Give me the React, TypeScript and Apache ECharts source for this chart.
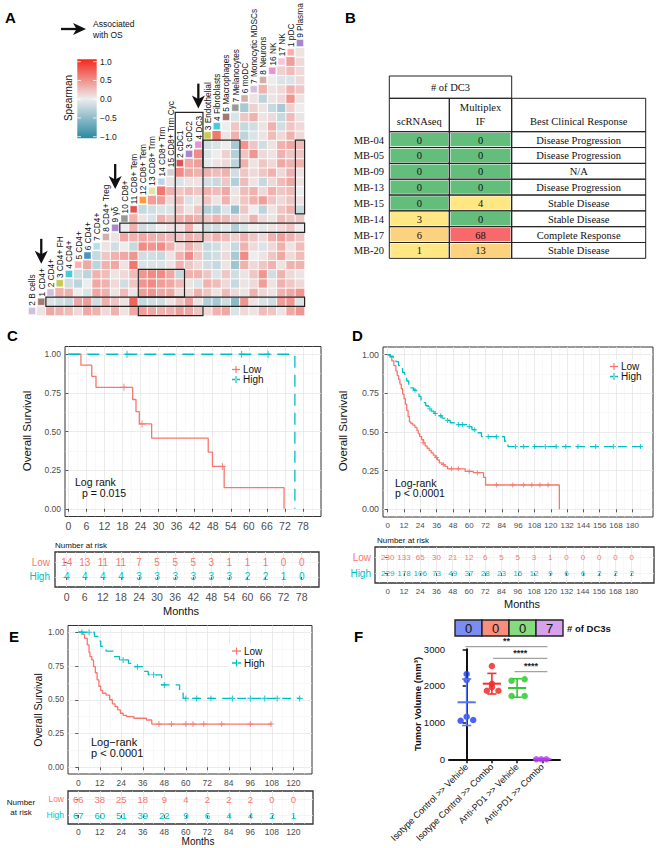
import React, { useEffect, useRef } from 'react';
import * as echarts from 'echarts';

const FONT = '"Liberation Sans", Arial, Helvetica, sans-serif';
const SERIF = '"Liberation Serif", "Times New Roman", Times, serif';
const RED = '#F8766D';
const TEAL = '#00BFC4';

/* ---------------- Panel A : correlation triangle ---------------- */
const cellTypes = [
  '2 B cells', '1 CD4+', '2 CD4+', '3 CD4+ FH', '4 CD4+', '5 CD4+', '6 CD4+', '7 CD4+',
  '8 CD4+ Treg', '9 γδ', '10 CD8+', '11 CD8+ Tem', '12 CD8+ Tem', '13 CD8+ Trm',
  '14 CD8+ Trm', '15 CD8+ Trm Cyc', '2 cDC1', '3 cDC2', '4 DC3', '3 Endothelial',
  '4 Fibroblasts', '5 Macrophages', '7 Melanocytes', '6 moDC', '7 Monocytic MDSCs',
  '8 Neurons', '16 NK', '17 NK', '1 pDC', '9 Plasma',
];
// row r holds Spearman values for columns r+1 .. 29
const corrRows = [
  [0.05, 0.35, 0.3, 0.25, 0.1, 0.35, 0.3, 0.1, 0.3, 0.05, 0.35, 0.4, 0.35, 0.3, 0.3, 0.4, 0.35, 0.2, 0.1, 0.3, 0.35, -0.1, 0.1, 0.05, 0.25, 0.2, 0.05, 0.35, 0.45],
  [-0.1, -0.15, -0.2, 0.35, 0.4, -0.15, 0.3, 0.2, 0.05, 0.7, -0.2, -0.15, -0.15, 0.05, 0.2, 0.4, 0.05, -0.3, -0.35, -0.15, -0.5, 0.45, 0.05, -0.1, -0.15, 0.4, 0.45, -0.1],
  [0.3, 0.3, 0, -0.1, 0.35, 0.3, 0.05, 0.25, 0.05, 0.4, 0.45, 0.35, 0.35, 0.1, 0.1, 0.3, 0.2, 0.05, 0.25, 0.1, 0.05, 0.3, 0.1, 0.05, 0.3, 0.35, 0.45],
  [-0.15, -0.25, 0, 0.35, 0.3, 0.1, -0.15, 0.2, 0.45, 0.5, 0.4, 0.35, 0.25, 0.05, -0.1, 0.3, 0.25, 0.1, -0.2, 0.05, 0.1, 0.4, 0.05, 0.3, 0.2, 0.1],
  [-0.15, -0.25, 0.3, 0.25, 0.05, 0.1, 0.25, 0.45, 0.5, 0.5, 0.35, -0.2, 0.3, 0.3, 0.2, -0.1, 0.2, -0.15, 0.05, 0.2, 0.45, -0.15, 0.3, 0.1, 0.05],
  [0.35, -0.25, 0.3, 0.35, 0.05, 0.6, -0.1, -0.1, -0.1, 0.05, 0.3, 0.2, 0.1, -0.15, -0.2, 0.05, -0.4, 0.3, 0.1, 0.2, 0.3, 0.05, 0.3, 0.3],
  [-0.2, 0.2, 0.3, 0.35, 0.45, -0.15, -0.15, -0.2, 0.05, 0.3, 0.5, 0.2, -0.2, -0.15, 0.1, -0.35, 0.5, 0, 0.05, 0.2, 0.35, 0.1, 0.25],
  [0.05, -0.15, 0, -0.2, 0.5, 0.45, 0.5, 0.3, 0.1, 0.3, 0.15, -0.2, -0.15, 0.05, -0.2, 0.3, 0.1, -0.1, 0.1, 0.3, 0.05, 0.25],
  [0.05, 0.35, 0.3, 0.35, 0.3, 0.3, 0.25, 0.2, 0.3, 0.25, 0.2, 0.3, 0.25, 0.15, 0.3, 0.2, 0.1, 0.3, 0.4, 0.3, 0.2],
  [0, 0.3, -0.15, -0.1, 0, 0.05, 0.05, 0.3, 0, -0.15, -0.15, -0.05, -0.3, -0.1, 0, -0.05, 0.05, 0.1, 0.2, 0],
  [0.3, 0.05, -0.1, 0.3, 0.2, 0.3, 0.35, 0.3, 0.2, 0.3, 0.25, 0.15, 0.1, 0.3, 0.1, 0.05, 0.25, 0.2, 0.2],
  [-0.2, -0.15, -0.1, -0.1, 0.2, 0.05, 0.2, -0.3, -0.3, -0.1, -0.45, 0.2, 0, -0.25, 0.05, 0.2, 0.3, -0.2],
  [0.4, 0.4, 0.1, 0.25, -0.1, 0.05, 0.2, 0.05, 0.3, 0.05, 0.2, 0.3, 0.4, 0.2, 0.1, 0.2, 0.05],
  [0.6, 0.3, 0.2, 0.25, 0.2, 0.3, 0.25, 0.35, 0.05, 0.25, 0.3, 0.1, 0.3, 0.2, 0.25, 0],
  [0.05, -0.1, 0.05, 0.05, -0.15, -0.2, 0.2, -0.3, 0.25, 0.05, -0.2, 0.1, 0.25, 0.35, 0.05],
  [0.5, 0.35, 0.3, 0.3, 0.25, 0.3, -0.15, 0.2, 0.1, 0.2, 0.3, 0.1, 0.3, 0.05],
  [0.35, 0.4, -0.05, 0.05, 0.1, -0.25, 0.3, 0.05, 0.2, 0.1, 0.35, 0.3, 0.3],
  [0.5, -0.1, 0, 0.15, -0.3, 0.2, 0.45, 0.1, 0.05, 0.3, 0.2, 0.2],
  [-0.15, -0.1, 0, -0.35, 0.45, 0.2, -0.15, 0.05, 0.3, 0.35, 0.25],
  [0.6, 0.05, 0.3, -0.25, -0.1, 0.05, 0.25, 0.1, 0.3, 0.1],
  [0, 0.2, -0.2, -0.15, 0.05, 0.3, -0.15, 0.2, 0.1],
  [-0.1, 0.2, 0.3, 0.05, 0.1, -0.2, 0.25, 0.05],
  [-0.35, 0.15, 0.05, -0.2, -0.35, 0.15, 0],
  [0.05, -0.25, 0.05, 0.1, 0.45, 0.05],
  [0.3, 0.05, 0.1, 0.3, 0.2],
  [0, -0.1, -0.1, 0.1],
  [0.15, 0.25, 0.1],
  [0.4, 0.1],
  [0.05],
];
// [firstCol, firstRow, lastCol, lastRow]
const highlightBoxes = [
  [12, 2, 16, 4], [2, 1, 29, 1], [12, 0, 18, 0], [10, 9, 29, 9],
  [16, 8, 18, 21], [19, 16, 22, 18], [29, 11, 29, 18],
];
// [column, row position of arrow tip]
const arrowMarks = [[1, 5.1], [9, 13.2], [18, 21.9]];
const colorbarValues = [1, 0.5, 0, -0.5, -1];
const colorbarLabels = ['1.0', '0.5', '0.0', '−0.5', '−1.0'];

// style palette for the cell-type chips
const chipColors = [
  '#c5b0d5', '#8c564b', '#c5b0d5', '#bcbd22', '#17becf', '#ff9896', '#1f77b4', '#9edae5',
  '#c49c94', '#9467bd', '#7f7f7f', '#d62728', '#ff7f0e', '#dbdb8d', '#aec7e8', '#c7c7c7',
  '#d62728', '#9467bd', '#e377c2', '#bcbd22', '#17becf', '#8c564b', '#7f7f7f', '#c49c94',
  '#c5b0d5', '#c49c94', '#e377c2', '#f7b6d2', '#ff9896', '#9467bd',
];
const heatColors = ['#2A88A3', '#EDEDED', '#F3291C'];

/* ---------------- Panel B : table ---------------- */
const tblPatients = ['MB-04', 'MB-05', 'MB-09', 'MB-13', 'MB-15', 'MB-14', 'MB-17', 'MB-20'];
const tblScRNA = [0, 0, 0, 0, 0, 3, 6, 1];
const tblMultiIF = [0, 0, 0, 0, 4, 0, 68, 13];
const tblResponse = [
  'Disease Progression', 'Disease Progression', 'N/A', 'Disease Progression',
  'Stable Disease', 'Stable Disease', 'Complete Response', 'Stable Disease',
];

/* ---------------- Panel C ---------------- */
const cTicks = [0, 6, 12, 18, 24, 30, 36, 42, 48, 54, 60, 66, 72, 78];
const cLowSteps = [[0, 1], [4.2, 0.929], [7.8, 0.857], [9.2, 0.786], [21.4, 0.707], [22.5, 0.628], [23.6, 0.549], [27.7, 0.457], [46.5, 0.366], [47.9, 0.274], [51.8, 0.137], [71.7, 0]];
const cLowCensor = [[18.5, 0.786], [24.5, 0.549], [51.2, 0.274]];
const cHighSteps = [[0, 1], [75.3, 0]];
const cHighCensor = [[19.5, 1], [57.6, 1], [66.4, 1]];
const cRiskLow = [14, 13, 11, 11, 7, 5, 5, 5, 3, 1, 1, 1, 0, 0];
const cRiskHigh = [4, 4, 4, 4, 3, 3, 3, 3, 3, 3, 2, 2, 1, 0];

/* ---------------- Panel D ---------------- */
const dTicks = [0, 12, 24, 36, 48, 60, 72, 84, 96, 108, 120, 132, 144, 156, 168, 180];
const dLowSteps = [[0, 1], [1.5, 0.985], [3, 0.96], [4.5, 0.93], [6, 0.895], [7, 0.865], [8, 0.84], [9, 0.81], [10, 0.78], [11, 0.745], [12, 0.715], [13, 0.68], [14, 0.64], [15, 0.6], [16, 0.565], [17, 0.555], [18.5, 0.545], [20, 0.53], [21.5, 0.51], [22.5, 0.49], [23.5, 0.47], [25, 0.45], [26.5, 0.43], [27.5, 0.41], [29, 0.395], [30.5, 0.38], [32, 0.365], [33.5, 0.35], [35, 0.335], [36.5, 0.32], [38, 0.3], [40, 0.29], [42, 0.278], [44, 0.262], [57, 0.245], [63, 0.237], [70.5, 0.207], [72, 0.157], [126.3, 0]];
const dLowCensor = [[26, 0.43], [36, 0.335], [41, 0.29], [47, 0.262], [52, 0.262], [60, 0.245], [66, 0.237], [80, 0.157], [92, 0.157], [100, 0.157], [106, 0.157], [112, 0.157], [118, 0.157]];
const dHighSteps = [[0, 1], [2, 0.99], [4, 0.975], [6, 0.955], [8, 0.93], [9.5, 0.91], [11, 0.885], [12.5, 0.86], [14, 0.83], [15.5, 0.8], [17, 0.785], [19, 0.77], [21, 0.755], [23, 0.73], [24.5, 0.705], [26, 0.69], [28, 0.67], [30, 0.65], [32, 0.635], [34, 0.62], [37, 0.605], [40, 0.59], [43, 0.575], [46, 0.56], [50, 0.548], [58, 0.535], [62, 0.515], [66, 0.495], [69, 0.47], [86, 0.44], [88.5, 0.406], [187, 0.406]];
const dHighCensor = [[20, 0.77], [31, 0.65], [35, 0.62], [39, 0.605], [44, 0.575], [52, 0.548], [55, 0.548], [60, 0.535], [64, 0.515], [74, 0.47], [80, 0.47], [94, 0.406], [100, 0.406], [108, 0.406], [116, 0.406], [124, 0.406], [131, 0.406], [140, 0.406], [153, 0.406], [166, 0.406], [186, 0.406]];
const dRiskLow = [230, 133, 65, 30, 21, 12, 6, 5, 5, 3, 1, 0, 0, 0, 0, 0];
const dRiskHigh = [229, 178, 106, 73, 49, 37, 28, 23, 15, 12, 9, 6, 6, 2, 2, 2];

/* ---------------- Panel E ---------------- */
const eTicks = [0, 12, 24, 36, 48, 60, 72, 84, 96, 108, 120];
const eLowSteps = [[0, 1], [2.5, 0.985], [3.5, 0.955], [5, 0.906], [6, 0.85], [6.5, 0.82], [7.5, 0.795], [8.5, 0.745], [9.5, 0.7], [10.5, 0.647], [11.5, 0.6], [12.5, 0.57], [13.5, 0.548], [15.5, 0.535], [17.5, 0.5], [19, 0.47], [20.5, 0.45], [22, 0.425], [23.5, 0.4], [25, 0.385], [27, 0.375], [31, 0.363], [38, 0.35], [41, 0.32], [108, 0.32]];
const eLowCensor = [[45, 0.32], [52, 0.32], [60, 0.32], [64, 0.32], [70, 0.32], [80, 0.32], [96, 0.32], [107.5, 0.32]];
const eHighSteps = [[0, 1], [9, 0.97], [11, 0.935], [12.5, 0.895], [15.5, 0.86], [19.5, 0.82], [23, 0.795], [28, 0.77], [31.5, 0.745], [36, 0.71], [39, 0.685], [46.5, 0.61], [56.5, 0.55], [58.5, 0.51], [124, 0.51]];
const eHighCensor = [[2, 1], [6, 1], [25, 0.795], [33, 0.745], [42, 0.685], [48, 0.61], [60, 0.51], [66, 0.51], [74, 0.51], [86, 0.51], [96, 0.51], [104, 0.51], [111, 0.51], [123.5, 0.51]];
const eRiskLow = [66, 38, 25, 18, 9, 4, 2, 2, 2, 0, 0];
const eRiskHigh = [67, 60, 51, 39, 22, 9, 6, 4, 4, 2, 1];

/* ---------------- Panel F ---------------- */
const fGroups = ['Isotype Control >> Vehicle', 'Isotype Control >> Combo', 'Anti-PD1 >> Vehicle', 'Anti-PD1 >> Combo'];
const fVolumes = [
  [2327, 2163, 1162, 1053, 1072],
  [2545, 2060, 1964, 1871, 1871],
  [2144, 2182, 1726, 1726],
  [0, 0, 0],
];
const fJitter = [
  [0, 0, 0, -0.24, 0.26],
  [0, 0, 0, -0.2, 0.26],
  [-0.22, 0.3, -0.22, 0.3],
  [-0.24, -0.04, 0.16],
];
const fDC3 = [0, 0, 0, 7];
const fSigLines = [[-0.05, 3.2, 3071], [1.05, 3.2, 2755], [1.9, 3.2, 2389]];
const fSigLabels = ['**', '****', '****'];
const fVolTicks = [0, 1, 2, 3];

// styles for panel F
const fPointColors = ['#1E3CF0', '#F21D1D', '#1FC81F', '#B23CF0'];
const fBarColors = ['#5675EE', '#F23030', '#35C535', '#B23CF0'];
const fBoxColors = ['#7C8DF2', '#F88E7B', '#86DA7F', '#D8A1EE'];

const survTicks = [0, 0.25, 0.5, 0.75, 1];
const near = (a: number, b: number) => Math.abs(a - b) < 1e-6;
const mean = (a: number[]) => a.reduce((s, v) => s + v, 0) / a.length;
const sdev = (a: number[]) => {
  const m = mean(a);
  return Math.sqrt(a.reduce((s, v) => s + (v - m) * (v - m), 0) / (a.length - 1));
};

function txt(x: number, y: number, text: string, o: any = {}) {
  const align = o.align || 'left';
  const va = o.va || 'middle';
  return {
    type: 'text', x, y, rotation: o.rot || 0, silent: true, z: o.z || 5,
    style: {
      text, fill: o.fill || '#111', fontSize: o.size || 10, fontFamily: o.family || FONT,
      fontWeight: o.weight || 'normal', align, textAlign: align, verticalAlign: va, textVerticalAlign: va,
      lineHeight: o.lh,
    },
  };
}

function kmAxisX(gi: number, min: number, max: number, step: number, ticks: number[], fs: number, margin = 4) {
  return {
    type: 'value', gridIndex: gi, min, max, minInterval: step, maxInterval: step,
    axisLine: { show: false },
    axisTick: { show: true, length: 3, customValues: ticks, lineStyle: { color: '#333', width: 0.8 } },
    axisLabel: {
      show: true, customValues: ticks, margin, fontSize: fs, fontFamily: FONT, color: '#4D4D4D',
      formatter: (v: any) => (ticks.some((t) => near(t, Number(v))) ? String(Math.round(Number(v))) : ''),
    },
    splitLine: { show: true, lineStyle: { color: '#E6E6E6', width: 0.8 } },
    minorTick: { show: false, splitNumber: 2 },
    minorSplitLine: { show: true, lineStyle: { color: '#F3F3F3', width: 0.5 } },
  };
}

function kmAxisY(gi: number, fs: number) {
  return {
    type: 'value', gridIndex: gi, min: -0.05, max: 1.05, minInterval: 0.25, maxInterval: 0.25,
    axisLine: { show: false },
    axisTick: { show: true, length: 3, customValues: survTicks, lineStyle: { color: '#333', width: 0.8 } },
    axisLabel: {
      customValues: survTicks, margin: 4, fontSize: fs, fontFamily: FONT, color: '#4D4D4D',
      formatter: (v: any) => (survTicks.some((t) => near(t, Number(v))) ? Number(v).toFixed(2) : ''),
    },
    splitLine: { show: true, lineStyle: { color: '#E6E6E6', width: 0.8 } },
    minorTick: { show: false, splitNumber: 2 },
    minorSplitLine: { show: true, lineStyle: { color: '#F3F3F3', width: 0.5 } },
  };
}

function riskAxisY(gi: number, min: number, max: number, fs: number, margin: number) {
  return {
    type: 'value', gridIndex: gi, min, max, minInterval: 1, maxInterval: 1,
    axisLine: { show: false },
    axisTick: { show: true, length: 3, customValues: [0, 1], lineStyle: { color: '#333', width: 0.8 } },
    axisLabel: {
      customValues: [0, 1], margin,
      formatter: (v: any) => (near(Number(v), 1) ? '{l|Low}' : near(Number(v), 0) ? '{h|High}' : ''),
      rich: {
        l: { color: RED, fontSize: fs, fontFamily: FONT },
        h: { color: TEAL, fontSize: fs, fontFamily: FONT },
      },
    },
    splitLine: { show: true, lineStyle: { color: '#EFEFEF', width: 0.7 } },
  };
}

function kmSeries(gi: number, steps: number[][], censor: number[][], color: string, dash: any, mark: number) {
  return [
    {
      type: 'line', xAxisIndex: gi, yAxisIndex: gi, data: steps, step: 'end', symbol: 'none', showSymbol: false,
      silent: true, lineStyle: { color, width: 1.3, type: dash || 'solid' }, itemStyle: { color }, z: 3,
    },
    {
      type: 'scatter', xAxisIndex: gi, yAxisIndex: gi, data: censor, silent: true,
      symbol: 'path://M0,5L10,5M5,0L5,10', symbolSize: mark,
      itemStyle: { color, borderColor: color, borderWidth: 1.1 }, z: 4,
    },
  ];
}

function riskSeries(gi: number, times: number[], low: number[], high: number[], fs: number) {
  const data: number[][] = [];
  times.forEach((t, i) => {
    data.push([t, 1, low[i]]);
    data.push([t, 0, high[i]]);
  });
  return {
    type: 'custom', xAxisIndex: gi, yAxisIndex: gi, data, silent: true, z: 4,
    renderItem: (params: any, api: any) => {
      const p = api.coord([api.value(0), api.value(1)]);
      const isLow = api.value(1) === 1;
      return {
        type: 'text', x: p[0], y: p[1],
        style: {
          text: String(api.value(2)), fill: isLow ? RED : TEAL, fontSize: fs, fontFamily: FONT,
          align: 'center', textAlign: 'center', verticalAlign: 'middle', textVerticalAlign: 'middle',
        },
      };
    },
  };
}

function kmLegend(x: number, y: number, dy: number, len: number, fs: number, dash: number[]) {
  const out: any[] = [];
  out.push({ type: 'rect', silent: true, z: 9, shape: { x: x - 4, y: y - 7, width: len + 34, height: dy + 14 }, style: { fill: '#fff' } });
  const items = [['Low', RED, null], ['High', TEAL, dash]];
  items.forEach((it: any, i: number) => {
    const yy = y + i * dy;
    out.push({ type: 'line', silent: true, z: 10, shape: { x1: x, y1: yy, x2: x + len, y2: yy }, style: { stroke: it[1], lineWidth: 1.3, lineDash: it[2] } });
    out.push({ type: 'line', silent: true, z: 10, shape: { x1: x + len / 2, y1: yy - 3.5, x2: x + len / 2, y2: yy + 3.5 }, style: { stroke: it[1], lineWidth: 1.1 } });
    out.push(txt(x + len + 3, yy, it[0], { size: fs, z: 10 }));
  });
  return out;
}

function buildOption() {
  const gridBox = { show: true, borderColor: '#333', borderWidth: 1, backgroundColor: 'transparent' };
  const grids = [
    { left: 27.4, top: 38.4, width: 277.2, height: 277.2 },
    { left: 65, top: 346.5, width: 256, height: 170, ...gridBox },
    { left: 55, top: 552, width: 264, height: 35, ...gridBox, borderWidth: 1.3 },
    { left: 383, top: 347, width: 270, height: 170, ...gridBox },
    { left: 375, top: 547, width: 279, height: 36, ...gridBox, borderWidth: 1.3 },
    { left: 68, top: 625.5, width: 244, height: 148.5, ...gridBox },
    { left: 68, top: 791, width: 245, height: 33, ...gridBox, borderWidth: 1.3 },
    { left: 449, top: 649.3, width: 111, height: 110 },
  ].map((g) => ({ containLabel: false, outerBoundsMode: 'none', ...g }));

  const xAxes = [
    { type: 'category', gridIndex: 0, data: cellTypes, show: false },
    kmAxisX(1, -1.097, 83.98, 6, cTicks, 10.5),
    kmAxisX(2, -3.88, 83.74, 6, cTicks, 10.5),
    kmAxisX(3, -3.46, 195.2, 12, dTicks, 8),
    kmAxisX(4, -9.37, 196.5, 12, dTicks, 8),
    kmAxisX(5, -5.75, 130.4, 12, eTicks, 8.5),
    kmAxisX(6, -5.76, 130.97, 12, eTicks, 8.5, 3),
    {
      type: 'value', gridIndex: 7, min: -0.7, max: 3.7, minInterval: 1, maxInterval: 1,
      axisLine: { show: true, onZero: false, lineStyle: { color: '#111', width: 2 } },
      axisTick: { show: true, length: 4, customValues: fVolTicks, lineStyle: { color: '#111', width: 1.5 } },
      axisLabel: {
        customValues: fVolTicks, rotate: 45, margin: 6, fontSize: 9, fontFamily: FONT, color: '#111',
        formatter: (v: any) => {
          const n = Number(v);
          return near(n, Math.round(n)) && n >= 0 && n <= 3 ? fGroups[Math.round(n)] : '';
        },
      },
      splitLine: { show: false },
    },
  ];
  const yAxes = [
    { type: 'category', gridIndex: 0, data: cellTypes, show: false },
    kmAxisY(1, 8.5),
    riskAxisY(2, -0.667, 1.667, 10, 5),
    kmAxisY(3, 8.8),
    riskAxisY(4, -0.625, 1.625, 10, 4),
    kmAxisY(5, 8.2),
    riskAxisY(6, -0.5625, 1.5, 8.5, 4),
    {
      type: 'value', gridIndex: 7, min: 0, max: 3000, interval: 1000,
      axisLine: { show: true, lineStyle: { color: '#111', width: 2 } },
      axisTick: { show: true, length: 4, lineStyle: { color: '#111', width: 1.5 } },
      axisLabel: { fontSize: 9.5, fontFamily: FONT, color: '#111', margin: 4, formatter: (v: any) => String(Math.round(Number(v))) },
      splitLine: { show: false },
    },
  ];

  // ---- heatmap data
  const heatData: number[][] = [];
  corrRows.forEach((row, r) => row.forEach((v, k) => heatData.push([r + 1 + k, r, v])));
  const chipData = cellTypes.map((_, c) => ({ value: [c, c], itemStyle: { color: chipColors[c] } }));

  const series: any[] = [
    {
      type: 'heatmap', xAxisIndex: 0, yAxisIndex: 0, data: heatData, silent: true,
      itemStyle: { borderColor: '#fff', borderWidth: 0.9 }, emphasis: { disabled: true },
    },
    {
      type: 'scatter', xAxisIndex: 0, yAxisIndex: 0, data: chipData, symbol: 'rect', symbolSize: 7,
      silent: true, itemStyle: { borderColor: '#fff', borderWidth: 0.5 }, z: 3,
    },
    {
      type: 'custom', xAxisIndex: 0, yAxisIndex: 0, silent: true, z: 4,
      data: cellTypes.map((_, c) => [c, c]),
      renderItem: (params: any, api: any) => {
        const c = api.value(0);
        const p = api.coord([c, c]);
        return {
          type: 'text', x: p[0] + 0.3, y: p[1] - 5.2, rotation: Math.PI / 2,
          style: {
            text: cellTypes[c], fill: '#111', fontSize: 8.3, fontFamily: FONT,
            align: 'left', textAlign: 'left', verticalAlign: 'middle', textVerticalAlign: 'middle',
          },
        };
      },
    },
    {
      type: 'custom', xAxisIndex: 0, yAxisIndex: 0, silent: true, z: 5, data: highlightBoxes,
      renderItem: (params: any, api: any) => {
        const o = api.coord([0, 0]);
        const s = api.size([1, 1]);
        const x0 = o[0] + (api.value(0) - 0.5) * s[0];
        const x1 = o[0] + (api.value(2) + 0.5) * s[0];
        const yT = o[1] - (api.value(3) + 0.5) * s[1];
        const yB = o[1] - (api.value(1) - 0.5) * s[1];
        return { type: 'rect', shape: { x: x0, y: yT, width: x1 - x0, height: yB - yT }, style: { fill: 'none', stroke: '#222', lineWidth: 1.2 } };
      },
    },
    {
      type: 'custom', xAxisIndex: 0, yAxisIndex: 0, silent: true, z: 5, data: arrowMarks,
      renderItem: (params: any, api: any) => {
        const o = api.coord([0, 0]);
        const s = api.size([1, 1]);
        const x = o[0] + api.value(0) * s[0];
        const yt = o[1] - api.value(1) * s[1];
        return {
          type: 'group', children: [
            { type: 'line', shape: { x1: x, y1: yt - 25, x2: x, y2: yt - 8 }, style: { stroke: '#111', lineWidth: 2.3 } },
            { type: 'polygon', shape: { points: [[x, yt], [x - 6.5, yt - 13], [x, yt - 9.5], [x + 6.5, yt - 13]] }, style: { fill: '#111' } },
          ],
        };
      },
    },
  ];

  series.push(...kmSeries(1, cLowSteps, cLowCensor, RED, null, 7));
  series.push(...kmSeries(1, cHighSteps, cHighCensor, TEAL, [12, 7], 7));
  series.push(riskSeries(2, cTicks, cRiskLow, cRiskHigh, 10));
  series.push(...kmSeries(3, dLowSteps, dLowCensor, RED, null, 5));
  series.push(...kmSeries(3, dHighSteps, dHighCensor, TEAL, [9, 5], 5));
  series.push(riskSeries(4, dTicks, dRiskLow, dRiskHigh, 8));
  series.push(...kmSeries(5, eLowSteps, eLowCensor, RED, null, 6));
  series.push(...kmSeries(5, eHighSteps, eHighCensor, TEAL, [9, 6], 6));
  series.push(riskSeries(6, eTicks, eRiskLow, eRiskHigh, 9.5));

  // ---- panel F
  const fPoints: any[] = [];
  fVolumes.forEach((vals, g) => vals.forEach((v, i) => fPoints.push({ value: [g + fJitter[g][i], v], itemStyle: { color: fPointColors[g] } })));
  series.push({ type: 'scatter', xAxisIndex: 7, yAxisIndex: 7, data: fPoints, symbolSize: 6.5, silent: true, z: 3, clip: false });
  series.push({
    type: 'custom', xAxisIndex: 7, yAxisIndex: 7, silent: true, z: 4,
    data: fVolumes.map((vals, g) => [g, mean(vals), sdev(vals)]),
    renderItem: (params: any, api: any) => {
      const g = api.value(0);
      const m = api.value(1);
      const sd = api.value(2);
      const c = api.coord([g, m]);
      const top = api.coord([g, m + sd])[1];
      const bot = api.coord([g, m - sd])[1];
      const u = api.size([1, 0])[0];
      const color = fBarColors[params.dataIndex];
      const ls = { stroke: color, lineWidth: 1.6 };
      return {
        type: 'group', children: [
          { type: 'line', shape: { x1: c[0], y1: top, x2: c[0], y2: bot }, style: ls },
          { type: 'line', shape: { x1: c[0] - 0.36 * u, y1: c[1], x2: c[0] + 0.36 * u, y2: c[1] }, style: { stroke: color, lineWidth: 2 } },
          { type: 'line', shape: { x1: c[0] - 0.18 * u, y1: top, x2: c[0] + 0.18 * u, y2: top }, style: ls },
          { type: 'line', shape: { x1: c[0] - 0.18 * u, y1: bot, x2: c[0] + 0.18 * u, y2: bot }, style: ls },
        ],
      };
    },
  });
  series.push({
    type: 'custom', xAxisIndex: 7, yAxisIndex: 7, silent: true, z: 4, data: fSigLines,
    renderItem: (params: any, api: any) => {
      const a = api.coord([api.value(0), api.value(2)]);
      const b = api.coord([api.value(1), api.value(2)]);
      return {
        type: 'group', children: [
          { type: 'line', shape: { x1: a[0], y1: a[1], x2: b[0], y2: b[1] }, style: { stroke: '#8A8A8A', lineWidth: 1 } },
          {
            type: 'text', x: (a[0] + b[0]) / 2, y: a[1] - 1,
            style: {
              text: fSigLabels[params.dataIndex], fill: '#222', fontSize: 9, fontWeight: 'bold', fontFamily: FONT,
              align: 'center', textAlign: 'center', verticalAlign: 'bottom', textVerticalAlign: 'bottom',
            },
          },
        ],
      };
    },
  });

  // ---- graphic annotations
  const g: any[] = [];
  const letters = [['A', 5, 17], ['B', 345, 17], ['C', 7, 335], ['D', 352, 335], ['E', 9, 636], ['F', 354, 636]];
  letters.forEach((l: any) => g.push(txt(l[1], l[2], l[0], { size: 15, weight: 'bold', fill: '#000' })));

  // A legend arrow
  g.push({ type: 'line', silent: true, shape: { x1: 61, y1: 29, x2: 77, y2: 29 }, style: { stroke: '#111', lineWidth: 2.3 } });
  g.push({ type: 'polygon', silent: true, shape: { points: [[86, 29], [73, 23], [76.5, 29], [73, 35]] }, style: { fill: '#111' } });
  g.push(txt(93, 29.5, 'Associated\nwith OS', { size: 8.5, lh: 10.5 }));
  // colorbar
  g.push({
    type: 'rect', silent: true, shape: { x: 77.3, y: 59.3, width: 19.4, height: 79 },
    style: {
      fill: new echarts.graphic.LinearGradient(0, 0, 0, 1, [
        { offset: 0, color: heatColors[2] }, { offset: 0.5, color: heatColors[1] }, { offset: 1, color: heatColors[0] },
      ]),
    },
  });
  colorbarValues.forEach((v, i) => {
    const y = 99.2 - v * 37.5;
    g.push({ type: 'line', silent: true, shape: { x1: 77.3, y1: y, x2: 81, y2: y }, style: { stroke: '#fff', lineWidth: 0.8 } });
    g.push({ type: 'line', silent: true, shape: { x1: 93, y1: y, x2: 96.7, y2: y }, style: { stroke: '#fff', lineWidth: 0.8 } });
    g.push(txt(100, y, colorbarLabels[i], { size: 8.5, fill: '#222' }));
  });
  g.push(txt(68, 98, 'Spearman', { size: 10, align: 'center', rot: Math.PI / 2 }));

  // B table
  const colX = [389.3, 449.3, 511.7, 645.7];
  const hTop = 76, h1 = 98.3, h2 = 131.7, rowH = 15.83;
  const stroke = { fill: 'none', stroke: '#222', lineWidth: 1 };
  g.push({ type: 'rect', silent: true, shape: { x: colX[0], y: hTop, width: colX[2] - colX[0], height: h1 - hTop }, style: stroke });
  for (let k = 0; k < 3; k++) {
    g.push({ type: 'rect', silent: true, shape: { x: colX[k], y: h1, width: colX[k + 1] - colX[k], height: h2 - h1 }, style: stroke });
  }
  const serif = (x: number, y: number, t: string, align = 'center') => txt(x, y, t, { size: 10.5, family: SERIF, align, fill: '#111' });
  g.push(serif((colX[0] + colX[2]) / 2, 87.5, '# of DC3'));
  g.push(serif((colX[0] + colX[1]) / 2, 121.7, 'scRNAseq'));
  g.push(serif((colX[1] + colX[2]) / 2, 107.3, 'Multiplex'));
  g.push(serif((colX[1] + colX[2]) / 2, 121.7, 'IF'));
  g.push(serif((colX[2] + colX[3]) / 2, 121.7, 'Best Clinical Response'));
  const dc3Fill = (v: number) => (v === 0 ? '#63BE7B' : v >= 50 ? '#F8696B' : v >= 5 ? '#FDD27F' : '#FFE884');
  tblPatients.forEach((p, i) => {
    const y0 = h2 + i * rowH;
    const yc = y0 + rowH / 2;
    const vals = [tblScRNA[i], tblMultiIF[i]];
    vals.forEach((v, k) => {
      g.push({ type: 'rect', silent: true, shape: { x: colX[k] + 1.2, y: y0 + 1.2, width: colX[k + 1] - colX[k] - 2.4, height: rowH - 2.4 }, style: { fill: dc3Fill(v) } });
      g.push({ type: 'rect', silent: true, shape: { x: colX[k], y: y0, width: colX[k + 1] - colX[k], height: rowH }, style: stroke });
      g.push(serif((colX[k] + colX[k + 1]) / 2, yc + 0.5, String(v)));
    });
    g.push({ type: 'rect', silent: true, shape: { x: colX[2], y: y0, width: colX[3] - colX[2], height: rowH }, style: stroke });
    g.push(serif((colX[2] + colX[3]) / 2, yc + 0.5, tblResponse[i]));
    g.push(serif(384, yc + 0.5, p, 'right'));
  });

  // C annotations
  g.push(txt(27, 431, 'Overall Survival', { size: 11.5, align: 'center', rot: Math.PI / 2 }));
  g.push(...kmLegend(232, 369.5, 10, 8, 10, [3, 2]));
  g.push(txt(75, 481.5, 'Log rank', { size: 10.5 }));
  g.push(txt(82, 492.5, 'p = 0.015', { size: 10.5 }));
  g.push(txt(55, 545, 'Number at risk', { size: 8 }));
  g.push(txt(181, 611, 'Months', { size: 11, align: 'center' }));

  // D annotations
  g.push(txt(343, 431, 'Overall Survival', { size: 11.5, align: 'center', rot: Math.PI / 2 }));
  g.push(...kmLegend(610, 366.5, 10, 8, 10, [3, 2]));
  g.push(txt(395, 482.5, 'Log-rank', { size: 10.5 }));
  g.push(txt(395, 493, 'p < 0.0001', { size: 10.5 }));
  g.push(txt(377, 540, 'Number at risk', { size: 8 }));
  g.push(txt(522, 603.5, 'Months', { size: 11, align: 'center' }));

  // E annotations
  g.push(txt(38, 710, 'Overall Survival', { size: 10.5, align: 'center', rot: Math.PI / 2 }));
  g.push(...kmLegend(232, 651, 12, 9, 10, [4, 2]));
  g.push(txt(91, 741.5, 'Log−rank', { size: 11 }));
  g.push(txt(91, 752.5, 'p < 0.0001', { size: 11 }));
  g.push(txt(21, 807.5, 'Number\nat risk', { size: 8, align: 'center', lh: 9.5 }));
  g.push(txt(198, 841.5, 'Months', { size: 10, align: 'center' }));

  // F annotations
  g.push(txt(417, 704, 'Tumor Volume (mm³)', { size: 9.5, weight: 'bold', align: 'center', rot: Math.PI / 2 }));
  fDC3.forEach((n, i) => {
    const x = 455 + i * 27;
    g.push({ type: 'rect', silent: true, shape: { x, y: 620, width: 27, height: 16 }, style: { fill: fBoxColors[i], stroke: '#222', lineWidth: 1.4 } });
    g.push(txt(x + 13.5, 628.5, String(n), { size: 13, align: 'center', fill: '#111' }));
  });
  g.push(txt(567, 628, '# of DC3s', { size: 9.5, weight: 'bold' }));

  return {
    animation: false,
    backgroundColor: '#fff',
    grid: grids,
    xAxis: xAxes,
    yAxis: yAxes,
    visualMap: [{ type: 'continuous', show: false, min: -1, max: 1, seriesIndex: 0, dimension: 2, inRange: { color: heatColors } }],
    series,
    graphic: { elements: g },
  };
}

export default function App() {
  const ref = useRef<HTMLDivElement>(null);
  useEffect(() => {
    const chart = echarts.init(ref.current as HTMLDivElement, null, { renderer: 'svg' });
    chart.setOption(buildOption() as any);
    return () => chart.dispose();
  }, []);
  return <div ref={ref} style={{ position: 'absolute', left: 0, top: 0, width: 659, height: 848, background: '#fff' }} />;
}
